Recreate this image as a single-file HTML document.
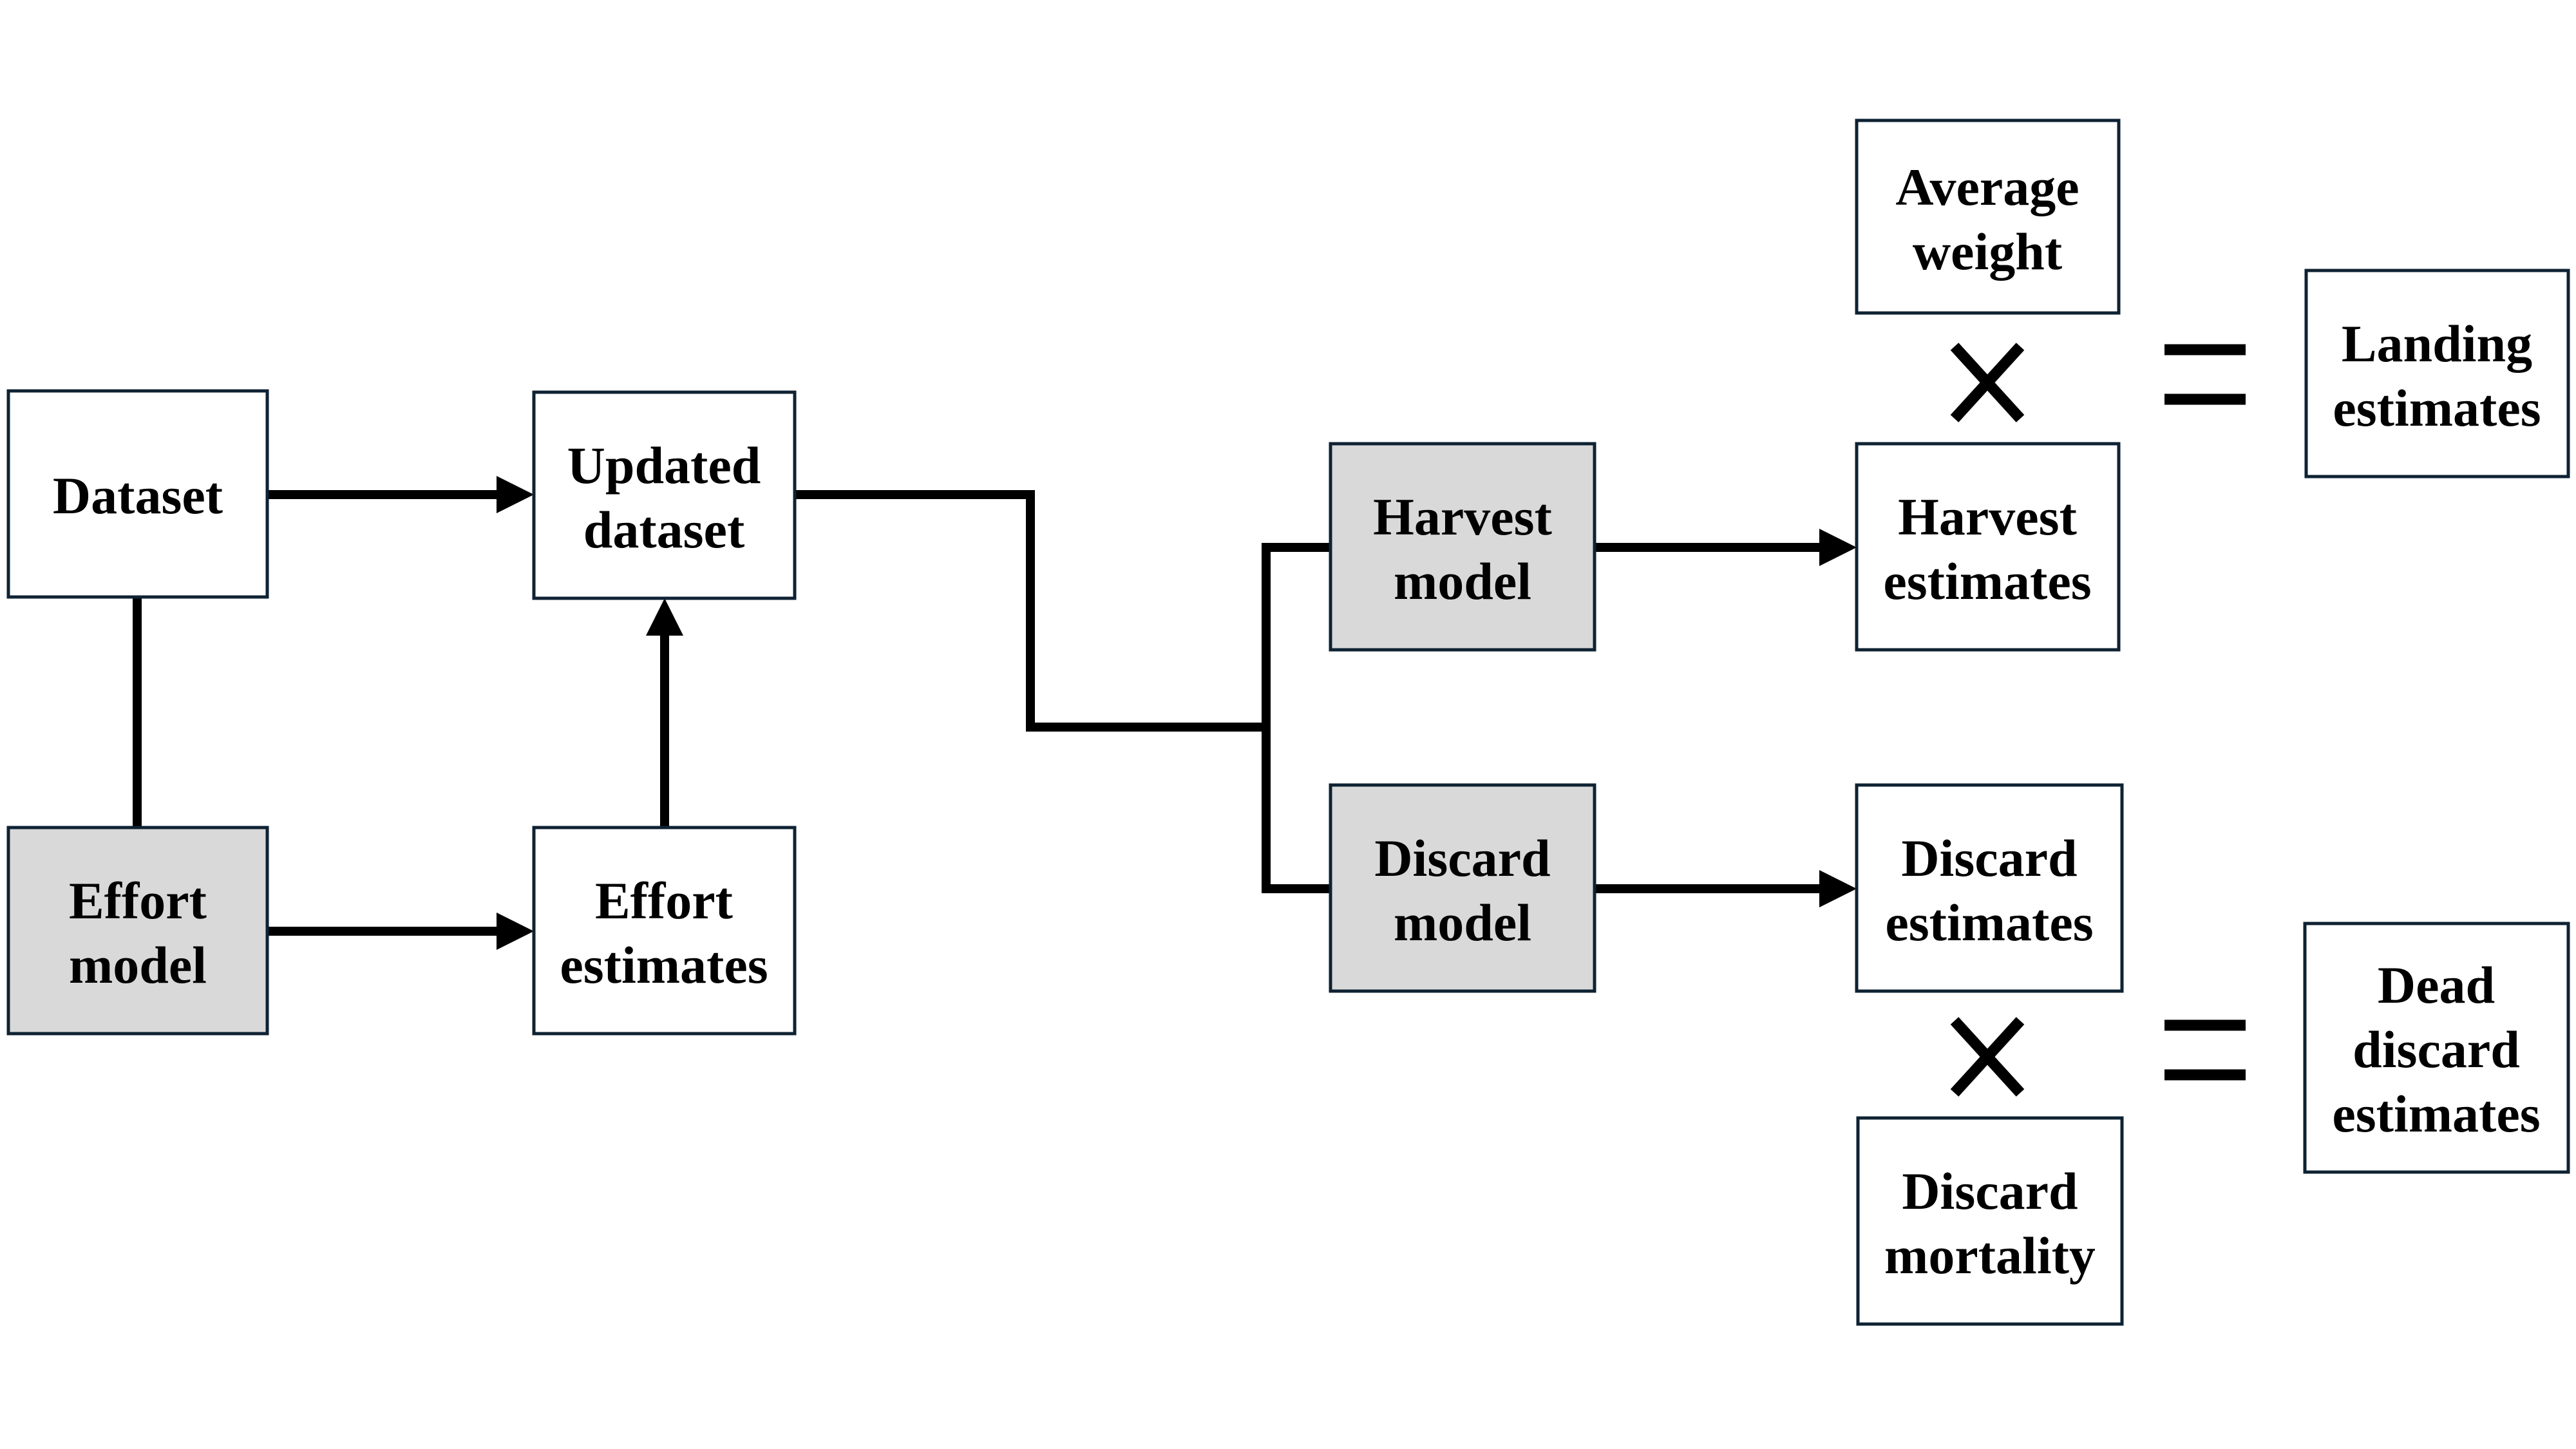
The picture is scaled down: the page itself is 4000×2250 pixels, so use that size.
<!DOCTYPE html>
<html><head><meta charset="utf-8"><style>
html,body{margin:0;padding:0;background:#fff;}
svg{display:block;}
text{font-family:"Liberation Serif",serif;font-weight:bold;font-size:82px;fill:#000;text-anchor:middle;}
</style></head><body>
<svg width="4000" height="2250" viewBox="0 0 4000 2250" xmlns="http://www.w3.org/2000/svg">
<g stroke="#000" stroke-width="14" fill="none">
<line x1="415" y1="768" x2="780" y2="768"/>
<line x1="213" y1="927" x2="213" y2="1285"/>
<line x1="415" y1="1446" x2="780" y2="1446"/>
<line x1="1032" y1="1285" x2="1032" y2="980"/>
<polyline points="1234,768 1600,768 1600,1129 1966,1129"/>
<polyline points="2066,850 1966,850 1966,1380 2066,1380"/>
<line x1="2476" y1="850" x2="2833" y2="850"/>
<line x1="2476" y1="1380" x2="2833" y2="1380"/>
</g>
<g fill="#000">
<polygon points="829,768 771,739 771,797"/>
<polygon points="829,1446 771,1417 771,1475"/>
<polygon points="1032,929 1003,987 1061,987"/>
<polygon points="2883,850 2825,821 2825,879"/>
<polygon points="2883,1380 2825,1351 2825,1409"/>
</g>
<g stroke="#0e2233" stroke-width="5" fill="#fff">
<rect x="13" y="607" width="402" height="320"/>
<rect x="829" y="609" width="405" height="320"/>
<rect x="13" y="1285" width="402" height="320" fill="#d9d9d9"/>
<rect x="829" y="1285" width="405" height="320"/>
<rect x="2066" y="689" width="410" height="320" fill="#d9d9d9"/>
<rect x="2066" y="1219" width="410" height="320" fill="#d9d9d9"/>
<rect x="2883" y="689" width="407" height="320"/>
<rect x="2883" y="187" width="407" height="299"/>
<rect x="3581" y="420" width="407" height="320"/>
<rect x="2883" y="1219" width="412" height="320"/>
<rect x="2885" y="1736" width="410" height="320"/>
<rect x="3579" y="1434" width="409" height="386"/>
</g>
<g stroke="#000" stroke-width="17">
<line x1="3035" y1="538" x2="3137" y2="650"/><line x1="3137" y1="538" x2="3035" y2="650"/>
<line x1="3035" y1="1585" x2="3137" y2="1697"/><line x1="3137" y1="1585" x2="3035" y2="1697"/>
<line x1="3361" y1="543" x2="3487" y2="543"/><line x1="3361" y1="620" x2="3487" y2="620"/>
<line x1="3361" y1="1592" x2="3487" y2="1592"/><line x1="3361" y1="1669" x2="3487" y2="1669"/>
</g>
<text x="214" y="797">Dataset</text>
<text x="1031" y="750">Updated</text><text x="1031" y="850">dataset</text>
<text x="214" y="1426">Effort</text><text x="214" y="1526">model</text>
<text x="1031" y="1426">Effort</text><text x="1031" y="1526">estimates</text>
<text x="2271" y="830">Harvest</text><text x="2271" y="930">model</text>
<text x="2271" y="1360">Discard</text><text x="2271" y="1460">model</text>
<text x="3086" y="830">Harvest</text><text x="3086" y="930">estimates</text>
<text x="3086" y="318">Average</text><text x="3086" y="418">weight</text>
<text x="3784" y="561">Landing</text><text x="3784" y="661">estimates</text>
<text x="3089" y="1360">Discard</text><text x="3089" y="1460">estimates</text>
<text x="3090" y="1877">Discard</text><text x="3090" y="1977">mortality</text>
<text x="3783" y="1557">Dead</text><text x="3783" y="1657">discard</text><text x="3783" y="1757">estimates</text>
</svg>
</body></html>
